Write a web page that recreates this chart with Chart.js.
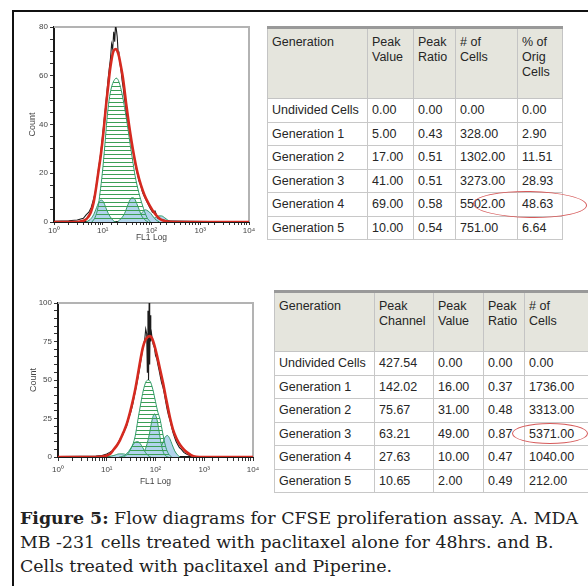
<!DOCTYPE html>
<html>
<head>
<meta charset="utf-8">
<script src="https://cdn.jsdelivr.net/npm/chart.js@4.4.1/dist/chart.umd.min.js"></script>
<style>
  body { margin: 0; width: 588px; height: 586px; overflow: hidden; position: relative; background: #fff; font-family: "Liberation Sans", Arial, sans-serif; }
  #frame { position: absolute; left: 12px; top: 10px; width: 700px; height: 700px; border-left: 2px solid #111; border-top: 2px solid #111; }
  canvas { position: absolute; }
  table { position: absolute; border-collapse: collapse; table-layout: fixed; font-size: 12.5px; color: #262626; }
  th { background: #e5e5dd; font-weight: normal; text-align: left; vertical-align: top; padding: 6px 3px 0 4px; line-height: 15px; border: 1px solid #c4c4c4; border-top: 3px solid #999; }
  td { padding: 0 3px 0 4px; border: 1px solid #c8c8c8; white-space: nowrap; overflow: visible; }
  .oval { position: absolute; border: 1px solid #d65a5a; border-radius: 50%; }
  #cap { position: absolute; left: 20px; top: 506px; font-family: "DejaVu Serif", serif; font-size: 17.4px; line-height: 24px; color: #222; white-space: nowrap; }
</style>
</head>
<body>
<div id="frame"></div>
<canvas id="histA" width="246" height="229" style="left:14px;top:14px"></canvas>
<canvas id="histB" width="250" height="197" style="left:14px;top:290px"></canvas>
<table id="tabA" style="left:267px;top:26px;width:295px"></table>
<table id="tabB" style="left:274px;top:290px;width:330px"></table>
<div class="oval" style="left:473px;top:191px;width:112px;height:25px;transform:rotate(1deg)"></div>
<div class="oval" style="left:512px;top:423px;width:74px;height:19px"></div>
<div id="cap"><b>Figure 5:</b> Flow diagrams for CFSE proliferation assay. A. MDA<br>MB -231 cells treated with paclitaxel alone for 48hrs. and B.<br>Cells treated with paclitaxel and Piperine.</div>

<script>
// tick labels
const decades = [1, 10, 100, 1000, 10000];
const decadeLabels = ['10⁰', '10¹', '10²', '10³', '10⁴'];

// ---- panel A (paclitaxel alone) : [FL1, count] ----
const fitA = [[1,0],[3,0],[4,0.5],[4.5,1],[5,2],[5.7,4],[6.5,8],[7.3,14],[8.2,21],[9.2,28],[10.6,39],[11.7,48],[12.8,55],[14,62],[15,66],[16,69],[17,70.5],[18.7,71],[20,70],[21.5,68],[23.5,64],[26,59],[28,54],[30,49],[34.5,40],[39,33],[44,27],[52,20],[61,15],[72,11],[85,8],[100,5.5],[112,4],[135,2],[157,1],[200,0.3],[300,0],[10000,0]];
const rawA = [[1,0.3],[2,0.5],[3,0.8],[4,1.5],[4.6,3],[5.2,4],[5.8,6],[6.4,9],[7,12],[7.6,17],[8.2,22],[8.8,26],[9.4,31],[10,36],[10.7,42],[11.4,47],[12,52],[12.8,58],[13.6,63],[14.4,67],[15.2,73],[16,71],[16.8,78],[17.6,74],[18.3,81],[19,79],[19.8,76],[20.6,70],[21.5,68],[22.6,65],[23.8,62],[25,58],[26.3,55],[27.7,51],[29.2,48],[30.8,44],[32.5,42],[34.3,39],[36.2,36],[38.2,33],[40.3,30],[42.5,28],[45,25],[48,22],[51,20],[55,17],[60,15],[66,12],[73,10],[82,8],[92,6],[105,4],[118,4.5],[135,1.5],[155,1],[200,0.5],[300,0.4],[600,0.3],[1500,0.2],[10000,0.2]];
const mainGenA = [[6,0],[7,2],[8,6],[8.8,12],[9.8,20],[11.1,32],[12.2,42],[13.5,50],[15,55],[17,58],[19,59],[21,58],[24,54],[28,47],[33,38],[37,31],[42,24],[46,19],[55,12],[65,7],[80,2],[95,0]];
const gen5A = [[4.5,0],[5.5,1],[6.5,3],[7.5,6],[8.5,8.5],[9.5,9],[10.5,8],[11.5,6],[13,3.5],[15,1.5],[17,0.3],[19,0]];
const gen3A = [[20,0],[24,1.5],[28,3.5],[32,6.5],[36,9],[40,10],[45,9.5],[50,7.5],[56,5],[63,2.5],[72,1],[85,0]];
const gen2A = [[40,0],[48,1],[56,2.5],[65,4],[75,5],[85,4.5],[97,3.5],[110,2],[125,0.8],[145,0]];
const gen1A = [[85,0],[100,0.8],[120,1.8],[140,2.5],[160,2.5],[185,1.8],[215,0.8],[260,0]];

// ---- panel B (paclitaxel + piperine) ----
const fitB = [[1,0],[6,0],[8,0.3],[10,1],[11.7,2],[14,5],[16.5,8],[18.7,11],[22,16],[26,22],[30,29],[34.5,37],[39,45],[43.8,54],[49,63],[55,71],[62,76],[70,78],[77,78.5],[85,77],[96,72],[107,66],[124,57],[143,48],[160,40],[180,32],[200,25],[228,18],[270,12],[318,8],[380,5],[443,3],[520,1.5],[600,0.5],[800,0],[10000,0]];
const rawB = [[1,0.3],[3,0.4],[6,0.6],[8,1],[10,2],[11.5,3],[13,4],[15,6],[17,9],[19,12],[21,14],[23,17],[25.5,20],[28,25],[31,29],[34,34],[37,40],[40.5,46],[44,52],[48,59],[52,66],[56,72],[60,76],[63,83],[66,80],[68,55],[70,95],[72,50],[74,100],[76,60],[78,92],[80,75],[83,80],[86,76],[90,73],[95,71],[100,66],[106,64],[112,60],[119,56],[126,52],[134,48],[143,45],[152,41],[162,36],[173,31],[185,27],[198,24],[212,20],[228,16],[245,13],[265,10],[287,8],[310,6],[340,5],[380,3],[430,2],[500,1],[600,0.5],[1000,0.3],[10000,0.2]];
const mainGenB = [[22,0],[27,2],[32,6],[38,13],[44,25],[50,35],[56,43],[63,48.5],[70,50],[78,49],[88,44],[100,36],[112,29],[123,25],[136,18],[150,11],[168,5],[190,1.5],[215,0]];
const gen5B = [[10,0],[14,1],[18,2],[22,2],[27,1],[33,0]];
const gen4B = [[18,0],[23,1],[28,3.5],[33,7],[38,9.5],[43,10],[49,8.5],[55,6],[62,3],[70,1],[80,0]];
const gen2B = [[45,0],[55,2],[65,7],[75,15],[85,24],[95,28],[106,25],[118,17],[130,9],[145,3],[165,0.5],[185,0]];
const gen1B = [[90,0],[105,1.5],[120,4],[138,8.5],[155,12.5],[175,14],[196,12],[220,8],[248,4],[280,1.5],[320,0]];

// ---- tables ----
const headA = ['Generation', 'Peak<br>Value', 'Peak<br>Ratio', '# of<br>Cells', '% of<br>Orig<br>Cells'];
const rowsA = [
  ['Undivided Cells', '0.00', '0.00', '0.00', '0.00'],
  ['Generation 1', '5.00', '0.43', '328.00', '2.90'],
  ['Generation 2', '17.00', '0.51', '1302.00', '11.51'],
  ['Generation 3', '41.00', '0.51', '3273.00', '28.93'],
  ['Generation 4', '69.00', '0.58', '5502.00', '48.63'],
  ['Generation 5', '10.00', '0.54', '751.00', '6.64']
];
const headB = ['Generation', 'Peak<br>Channel', 'Peak<br>Value', 'Peak<br>Ratio', '# of<br>Cells'];
const rowsB = [
  ['Undivided Cells', '427.54', '0.00', '0.00', '0.00'],
  ['Generation 1', '142.02', '16.00', '0.37', '1736.00'],
  ['Generation 2', '75.67', '31.00', '0.48', '3313.00'],
  ['Generation 3', '63.21', '49.00', '0.87', '5371.00'],
  ['Generation 4', '27.63', '10.00', '0.47', '1040.00'],
  ['Generation 5', '10.65', '2.00', '0.49', '212.00']
];

function fillTable(id, head, rows, widths, headH, rowH) {
  const t = document.getElementById(id);
  let html = '<colgroup>' + widths.map(w => `<col style="width:${w}px">`).join('') + '</colgroup>';
  html += `<tr style="height:${headH}px">` + head.map(h => `<th>${h}</th>`).join('') + '</tr>';
  rows.forEach(r => {
    html += `<tr style="height:${rowH}px">` + r.map(c => `<td>${c}</td>`).join('') + '</tr>';
  });
  t.innerHTML = html;
}
fillTable('tabA', headA, rowsA, [100, 46, 42, 62, 45], 71, 23.5);
fillTable('tabB', headB, rowsB, [100, 59, 50, 41, 80], 60, 23.5);

// ---- charts ----
function hatch(color) {
  const c = document.createElement('canvas');
  c.width = 6; c.height = 4;
  const g = c.getContext('2d');
  g.fillStyle = color;
  g.fillRect(0, 0, 6, 1);
  return g.createPattern(c, 'repeat');
}

// grey box on top / right of plot
const plotBox = {
  id: 'plotBox',
  beforeDatasetsDraw(chart) {
    const a = chart.chartArea, g = chart.ctx;
    g.save();
    g.strokeStyle = '#b3b3b3';
    g.lineWidth = 2;
    g.beginPath();
    g.moveTo(a.left, a.top);
    g.lineTo(a.right, a.top);
    g.lineTo(a.right, a.bottom);
    g.stroke();
    g.restore();
  }
};

const GREEN = '#2f9a66';
const BLUE = '#b2d4ec';

function drawPanel(id, p) {
  const genSets = p.gens.map((g, i) => ({
    data: g, borderColor: GREEN, borderWidth: 1, fill: 'origin', backgroundColor: BLUE,
    cubicInterpolationMode: 'monotone', order: 3 + i
  }));
  new Chart(document.getElementById(id), {
    type: 'line',
    data: {
      datasets: [
        { data: p.fit, borderColor: '#d52a20', borderWidth: 2.6, cubicInterpolationMode: 'monotone', order: 0 },
        { data: p.raw, borderColor: '#1c1c1c', borderWidth: 1.1, tension: 0, order: 1 },
        { data: p.main, borderColor: GREEN, borderWidth: 1, fill: 'origin', backgroundColor: hatch('#3c9f55'),
          cubicInterpolationMode: 'monotone', order: 2 },
        ...genSets
      ]
    },
    options: {
      responsive: false,
      animation: false,
      events: [],
      elements: { point: { radius: 0 } },
      plugins: { legend: { display: false }, tooltip: { enabled: false } },
      layout: { padding: { top: 13, right: 11, left: 0, bottom: 0 } },
      scales: {
        x: {
          type: 'logarithmic', min: 1, max: 10000,
          ticks: {
            autoSkip: false, maxRotation: 0, padding: p.xPad,
            color: '#444', font: { family: 'Liberation Sans', size: 8 },
            callback: v => { const i = decades.indexOf(v); return i >= 0 ? decadeLabels[i] : ''; }
          },
          grid: { drawOnChartArea: false, tickLength: p.xTick, tickColor: '#333' },
          border: { color: '#1a1a1a', width: 2 },
          title: { display: true, text: 'FL1 Log', color: '#444', font: { family: 'Liberation Sans', size: 8.5 }, padding: 0 },
          afterFit: s => { s.height = p.xH; }
        },
        y: {
          min: 0, max: p.yMax,
          ticks: {
            stepSize: 5, maxTicksLimit: 40, autoSkip: false, padding: 2,
            color: '#444', font: { family: 'Liberation Sans', size: 8 },
            callback: v => (v % p.yLabelEvery === 0 ? String(v) : '')
          },
          grid: { drawOnChartArea: false, tickLength: 4, tickColor: '#333' },
          border: { color: '#1a1a1a', width: 2 },
          title: { display: true, text: 'Count', color: '#444', font: { family: 'Liberation Sans', size: 9 }, padding: { top: p.titlePad, bottom: 0 } },
          afterFit: s => { s.width = p.yW; }
        }
      }
    },
    plugins: [plotBox]
  });
}

drawPanel('histA', {
  fit: fitA, raw: rawA, main: mainGenA, gens: [gen5A, gen3A, gen2A, gen1A],
  yMax: 80, yLabelEvery: 20, yW: 40, xH: 21, xTick: 3, xPad: 1, titlePad: 13
});
drawPanel('histB', {
  fit: fitB, raw: rawB, main: mainGenB, gens: [gen4B, gen2B, gen1B, gen5B],
  yMax: 100, yLabelEvery: 25, yW: 44, xH: 30, xTick: 4, xPad: 4, titlePad: 14
});
</script>
</body>
</html>
